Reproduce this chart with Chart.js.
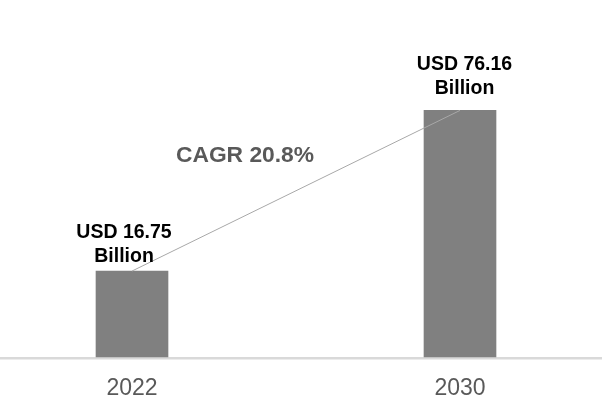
<!DOCTYPE html>
<html>
<head>
<meta charset="utf-8">
<script src="https://cdn.jsdelivr.net/npm/chart.js@4"></script>
<style>
  body { margin: 0; background: #fff; }
  #wrap { width: 602px; height: 420px; }
</style>
</head>
<body>
<div id="wrap"><canvas id="myChart" width="602" height="420"></canvas></div>
<script>
const years = ['2022', '2030'];
const marketSize = [16.75, 76.16]; // USD Billion
const cagrText = 'CAGR 20.8%';

// bars in the source are not drawn from zero, the value axis starts below it
const axisMin = -15;
const axisMax = 117;

// labels above bars: "USD xx.xx" / "Billion"
const barLabels = {
    id: 'barLabels',
    afterDatasetsDraw(chart) {
        const ctx = chart.ctx;
        const meta = chart.getDatasetMeta(0);
        const shiftX = [-8, 4.5];
        const gap = [9.5, 16.5];
        ctx.save();
        ctx.fillStyle = '#000';
        ctx.font = 'bold 19.5px "Liberation Sans", Arial, sans-serif';
        ctx.textAlign = 'center';
        ctx.textBaseline = 'alphabetic';
        meta.data.forEach((bar, i) => {
            const x = bar.x + shiftX[i];
            const y = bar.y - gap[i];
            ctx.fillText('USD ' + marketSize[i].toFixed(2), x, y - 24);
            ctx.fillText('Billion', x, y);
        });
        // CAGR note
        ctx.fillStyle = '#595959';
        ctx.font = 'bold 22.8px "Liberation Sans", Arial, sans-serif';
        ctx.fillText(cagrText, 245, 161.5);
        ctx.restore();
    }
};

// light baseline across the whole width
const baseLine = {
    id: 'baseLine',
    beforeDatasetsDraw(chart) {
        const ctx = chart.ctx;
        const y = chart.scales.y.getPixelForValue(axisMin);
        ctx.save();
        ctx.strokeStyle = '#d9d9d9';
        ctx.lineWidth = 2.5;
        ctx.beginPath();
        ctx.moveTo(0, y + 1.3);
        ctx.lineTo(chart.width, y + 1.3);
        ctx.stroke();
        ctx.restore();
    }
};

const ctx = document.getElementById('myChart').getContext('2d');
const myChart = new Chart(ctx, {
    type: 'bar',
    data: {
        labels: years,
        datasets: [{
            type: 'bar',
            data: marketSize,
            backgroundColor: '#808080',
            barThickness: 72,
            base: axisMin,
            clip: false,
            order: 1
        }, {
            type: 'line',
            data: marketSize,
            borderColor: '#a8a8a8',
            borderWidth: 1,
            pointRadius: 0,
            clip: false,
            order: 0
        }]
    },
    options: {
        responsive: false,
        animation: false,
        layout: { padding: { left: 132, right: 142, top: 0, bottom: 7.5 } },
        plugins: {
            legend: { display: false },
            tooltip: { enabled: false }
        },
        scales: {
            x: {
                offset: false,
                grid: { display: false },
                border: { display: false },
                ticks: {
                    color: '#595959',
                    padding: 10,
                    font: { family: '"Liberation Sans", Arial, sans-serif', size: 23 }
                }
            },
            y: {
                display: false,
                min: axisMin,
                max: axisMax
            }
        }
    },
    plugins: [baseLine, barLabels]
});
</script>
</body>
</html>
